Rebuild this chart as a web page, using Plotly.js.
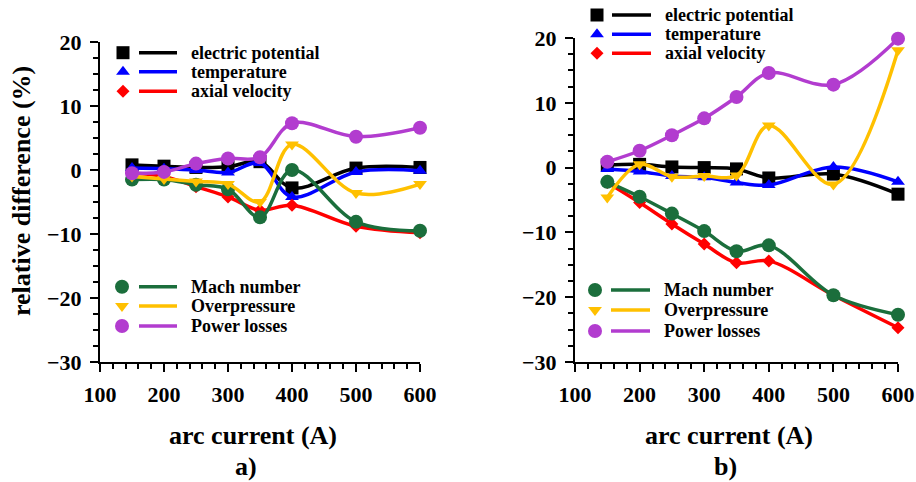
<!DOCTYPE html>
<html>
<head>
<meta charset="utf-8">
<script src="https://cdn.plot.ly/plotly-3.0.1.min.js"></script>
<style>html,body{margin:0;padding:0;background:#fff}#chart{width:916px;height:482px}</style>
</head>
<body>
<div id="chart"></div>
<script>
// ---- data ----
const arcCurrent = [150, 200, 250, 300, 350, 400, 500, 600];
const xTicks = [100, 200, 300, 400, 500, 600];
const yTicks = [-30, -20, -10, 0, 10, 20];
const seriesNames = ['electric potential', 'temperature', 'axial velocity', 'Mach number', 'Overpressure', 'Power losses'];

// panel a)
const elecA  = [0.8, 0.6, 0.4, 0.5, 1.3, -2.8, 0.3, 0.4];
const tempA  = [0.3, 0.2, 0.0, -0.4, 1.1, -4.2, -0.3, -0.1];
const velA   = [-0.5, -1.0, -2.6, -4.2, -6.3, -5.5, -8.8, -9.8];
const machA  = [-1.5, -1.5, -2.3, -3.0, -7.4, 0.0, -8.1, -9.5];
const overA  = [-1.0, -1.4, -1.8, -2.2, -5.0, 4.0, -3.6, -2.2];
const powA   = [-0.5, -0.3, 1.0, 1.8, 2.0, 7.3, 5.2, 6.6];

// panel b)
const elecB  = [0.4, 0.5, 0.1, 0.0, -0.2, -1.6, -1.0, -4.1];
const tempB  = [-0.2, -0.6, -1.3, -1.5, -2.3, -2.7, 0.1, -2.2];
const velB   = [-2.3, -5.4, -8.7, -11.8, -14.7, -14.4, -19.7, -24.7];
const machB  = [-2.2, -4.5, -7.1, -9.8, -12.9, -12.0, -19.7, -22.7];
const overB  = [-4.6, 0.5, -1.4, -1.3, -1.2, 6.5, -2.6, 18.1];
const powB   = [0.9, 2.6, 5.0, 7.6, 10.9, 14.6, 12.8, 19.9];

const panelA = [elecA, tempA, velA, machA, overA, powA];
const panelB = [elecB, tempB, velB, machB, overB, powB];

// ---- styles ----
const styles = [
  {color: '#000000', symbol: 'square',        size: 13},
  {color: '#0000ff', symbol: 'triangle-up',   size: 12},
  {color: '#ff0000', symbol: 'diamond',       size: 10},
  {color: '#1b6e3c', symbol: 'circle',        size: 14},
  {color: '#ffc000', symbol: 'triangle-down', size: 12},
  {color: '#b23ccf', symbol: 'circle',        size: 14}
];
const FONT = 'Liberation Serif, Times New Roman, serif';
const W = 916, H = 482;

const traces = [];
function addPanel(vals, xa, ya) {
  vals.forEach((ys, i) => {
    const s = styles[i];
    traces.push({
      x: arcCurrent, y: ys, xaxis: xa, yaxis: ya, type: 'scatter', mode: 'lines+markers',
      name: seriesNames[i], showlegend: false, cliponaxis: false,
      line: {shape: 'spline', smoothing: 1, width: 3.5, color: s.color},
      marker: {symbol: s.symbol, size: s.size, color: s.color, line: {width: 0}}
    });
  });
}
addPanel(panelA, 'x', 'y');
addPanel(panelB, 'x2', 'y2');

// ---- custom legends (pixel layout on a hidden overlay axis) ----
const legendBlocks = [
  {items: [0, 1, 2], markerX: 123, lineX: [139, 177], textX: 189, rows: [52.7, 71.7, 91.3]},
  {items: [3, 4, 5], markerX: 122, lineX: [139, 177], textX: 189, rows: [286.7, 306, 326]},
  {items: [0, 1, 2], markerX: 597, lineX: [612, 651], textX: 663, rows: [15, 34.3, 53.3]},
  {items: [3, 4, 5], markerX: 595, lineX: [611, 650], textX: 662, rows: [290, 310, 331]}
];
const annotations = [];
legendBlocks.forEach(b => {
  b.items.forEach((idx, k) => {
    const s = styles[idx], yy = b.rows[k];
    traces.push({x: b.lineX, y: [yy, yy], xaxis: 'x3', yaxis: 'y3', mode: 'lines', showlegend: false,
      hoverinfo: 'skip', line: {color: s.color, width: 3.5}});
    traces.push({x: [b.markerX], y: [yy], xaxis: 'x3', yaxis: 'y3', mode: 'markers', showlegend: false,
      hoverinfo: 'skip', marker: {symbol: s.symbol, size: s.size, color: s.color}});
    annotations.push({xref: 'paper', yref: 'paper', x: b.textX / W, y: 1 - yy / H, xanchor: 'left', yanchor: 'middle',
      showarrow: false, text: seriesNames[idx], font: {family: FONT, size: 18, color: '#000', weight: 'bold'}});
  });
});

// titles
const titleFont = {family: FONT, size: 26, color: '#000', weight: 'bold'};
annotations.push({xref: 'paper', yref: 'paper', x: 22 / W, y: 1 - 191 / H, textangle: -90, xanchor: 'center', yanchor: 'middle',
  showarrow: false, text: 'relative difference (%)', font: titleFont});
annotations.push({xref: 'paper', yref: 'paper', x: 253 / W, y: 1 - 435 / H, xanchor: 'center', yanchor: 'middle',
  showarrow: false, text: 'arc current (A)', font: titleFont});
annotations.push({xref: 'paper', yref: 'paper', x: 729 / W, y: 1 - 435 / H, xanchor: 'center', yanchor: 'middle',
  showarrow: false, text: 'arc current (A)', font: titleFont});
annotations.push({xref: 'paper', yref: 'paper', x: 246 / W, y: 1 - 466 / H, xanchor: 'center', yanchor: 'middle',
  showarrow: false, text: 'a)', font: titleFont});
annotations.push({xref: 'paper', yref: 'paper', x: 725 / W, y: 1 - 466 / H, xanchor: 'center', yanchor: 'middle',
  showarrow: false, text: 'b)', font: titleFont});

const tickFont = {family: FONT, size: 22, color: '#000', weight: 'bold'};
function xAxis(dom, anchor) {
  return {domain: dom, anchor: anchor, range: [100, 600], tickmode: 'array', tickvals: xTicks,
    ticks: 'outside', ticklen: 8, tickwidth: 2, tickcolor: '#000', showline: true, linewidth: 2, linecolor: '#000',
    showgrid: false, zeroline: false, tickfont: tickFont, ticklabelstandoff: 4,
    minor: {dtick: 20, tick0: 100, ticks: 'outside', ticklen: 5, tickwidth: 2, tickcolor: '#000', showgrid: false},
    fixedrange: true};
}
function yAxis(dom, anchor) {
  return {domain: dom, anchor: anchor, range: [-30, 20], tickmode: 'array', tickvals: yTicks,
    ticks: 'outside', ticklen: 8, tickwidth: 2, tickcolor: '#000', showline: true, linewidth: 2, linecolor: '#000',
    showgrid: false, zeroline: false, tickfont: tickFont, ticklabelstandoff: 4,
    minor: {dtick: 2.5, tick0: -30, ticks: 'outside', ticklen: 5, tickwidth: 2, tickcolor: '#000', showgrid: false},
    fixedrange: true};
}

const layout = {
  width: W, height: H, margin: {l: 0, r: 0, t: 0, b: 0},
  paper_bgcolor: '#fff', plot_bgcolor: 'rgba(0,0,0,0)', showlegend: false,
  xaxis: xAxis([100 / W, 420 / W], 'y'),
  yaxis: yAxis([1 - 362 / H, 1 - 42 / H], 'x'),
  xaxis2: xAxis([575 / W, 898 / W], 'y2'),
  yaxis2: yAxis([1 - 362 / H, 1 - 38 / H], 'x2'),
  xaxis3: {domain: [0, 1], anchor: 'y3', range: [0, W], visible: false, fixedrange: true},
  yaxis3: {domain: [0, 1], anchor: 'x3', range: [H, 0], visible: false, fixedrange: true},
  annotations: annotations
};

Plotly.newPlot('chart', traces, layout, {staticPlot: true, displayModeBar: false});
</script>
</body>
</html>
